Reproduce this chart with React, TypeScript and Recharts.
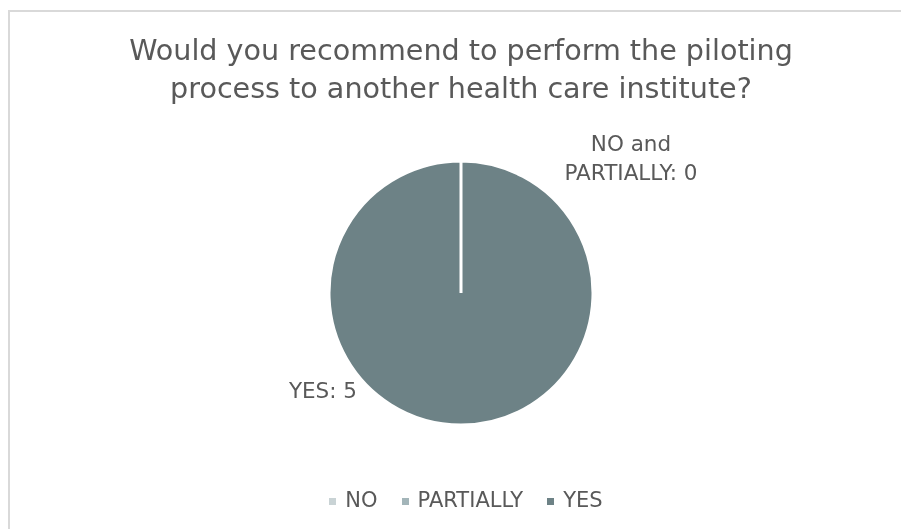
import React from 'react';
import { PieChart, Pie, Cell, Legend } from 'recharts';

const categories = ['NO', 'PARTIALLY', 'YES'];
const answers = [0, 0, 5];
const colors = ['#c9d3d5', '#a3b5b9', '#6d8286'];
const title = ['Would you recommend to perform the piloting', 'process to another health care institute?'];

const data = categories.map((name, i) => ({ name, value: answers[i] }));

const FONT = '"DejaVu Sans", sans-serif';

// Excel puts one combined label for the two empty slices, so draw all labels from the YES slice
const renderLabel = (props: any) => {
  const { cx, cy, index } = props;
  if (index !== 2) return null;
  return (
    <g fontFamily={FONT} fontSize={21.5} fill="#595959">
      <text x={cx - 104} y={cy + 105} textAnchor="end">{`${categories[2]}: ${answers[2]}`}</text>
      <text x={cx + 170} y={cy - 142} textAnchor="middle">{`${categories[0]} and`}</text>
      <text x={cx + 170} y={cy - 113} textAnchor="middle">{`${categories[1]}: ${answers[0] + answers[1]}`}</text>
    </g>
  );
};

const App: React.FC = () => {
  return (
    <div style={{ position: 'fixed', left: 8, top: 10, right: 0, bottom: 0, overflow: 'hidden', borderTop: '2px solid #d9d9d9', borderLeft: '2px solid #d9d9d9', fontFamily: FONT }}>
      <div style={{ position: 'absolute', left: 0, top: 19, width: 902, textAlign: 'center', fontSize: 28.6, lineHeight: '38px', color: '#595959' }}>
        {title.map((t) => <div key={t}>{t}</div>)}
      </div>
      <PieChart width={891} height={517}>
        <Pie
          data={data}
          dataKey="value"
          nameKey="name"
          cx={446}
          cy={276}
          outerRadius={132}
          startAngle={90}
          endAngle={-270}
          stroke="#ffffff"
          strokeWidth={3}
          label={renderLabel}
          labelLine={false}
          isAnimationActive={false}
        >
          {data.map((d, i) => <Cell key={d.name} fill={colors[i]} />)}
        </Pie>
        <Legend
          verticalAlign="bottom"
          iconType="square"
          iconSize={7}
          wrapperStyle={{ bottom: 17, left: 17, width: 902, fontSize: 21, color: '#595959' }}
          formatter={(v: string) => <span style={{ color: '#595959', marginLeft: 5, marginRight: 14 }}>{v}</span>}
        />
      </PieChart>
    </div>
  );
};

export default App;
